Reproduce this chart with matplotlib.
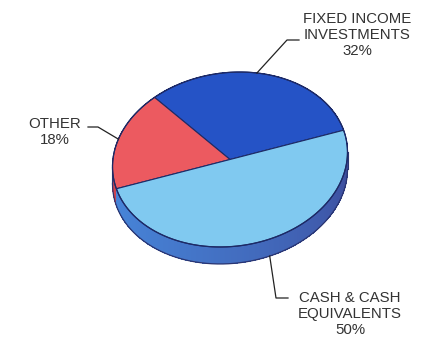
import numpy as np
import matplotlib.pyplot as plt
from matplotlib.patches import Polygon
from matplotlib.colors import to_rgb

# Portfolio mix
labels = ["FIXED INCOME\nINVESTMENTS", "OTHER", "CASH & CASH\nEQUIVALENTS"]
shares = [32, 18, 50]
top_colors = ["#2553c6", "#ec5a60", "#80c9f0"]
# side colours: (lit end, shadowed end)
side_colors = [("#2a48a8", "#233a88"), ("#d0444f", "#b03848"), ("#4786da", "#3c4898")]

# Tilted disc geometry (pixels, y pointing down)
cx, cy = 230, 159.5
a, b = 118, 86.8
tilt = np.radians(7.8)
depth = 17
start_angle = 9

plt.rcParams['font.family'] = ['Liberation Sans', 'DejaVu Sans']


def rim(theta_deg, drop=0.0):
    t = np.radians(theta_deg)
    x = a * np.cos(t)
    y = b * np.sin(t)
    xr = x * np.cos(tilt) - y * np.sin(tilt)
    yr = x * np.sin(tilt) + y * np.cos(tilt)
    return np.column_stack([cx + xr, cy - yr + drop])


def shade(pair, theta):
    # blend from the lit left side to the shadowed right side
    lit, dark = np.array(to_rgb(pair[0])), np.array(to_rgb(pair[1]))
    t = np.clip((np.mod(theta, 360) - 180) / 180.0, 0, 1) ** 1.3
    return lit * (1 - t) + dark * t


fig = plt.figure(figsize=(4.26, 3.40), dpi=100)
ax = fig.add_axes([0, 0, 1, 1])
ax.set_xlim(0, 426)
ax.set_ylim(340, 0)
ax.set_aspect('equal')
ax.axis('off')

bounds = start_angle + np.concatenate([[0], np.cumsum(shares)]) * 3.6

# side of the disc, drawn in thin strips
for i in range(len(shares)):
    th = np.linspace(bounds[i], bounds[i + 1], 200)
    for t0, t1 in zip(th[:-1], th[1:]):
        top = rim([t0, t1])
        bot = rim([t1, t0], depth)
        ax.add_patch(Polygon(np.vstack([top, bot]), closed=True,
                             facecolor=shade(side_colors[i], (t0 + t1) / 2),
                             edgecolor='none', antialiased=False, zorder=1))

# outline of the lower rim on the visible front
front = rim(np.linspace(174, 354, 200), depth)
ax.plot(front[:, 0], front[:, 1], color='#2a3470', lw=0.9, zorder=2)
for th_edge in (174.2, 354.2):
    p = np.vstack([rim([th_edge]), rim([th_edge], depth)])
    ax.plot(p[:, 0], p[:, 1], color='#2a3470', lw=0.8, zorder=2)

# top face wedges
for i in range(len(shares)):
    th = np.linspace(bounds[i], bounds[i + 1], 200)
    pts = np.vstack([[cx, cy], rim(th)])
    ax.add_patch(Polygon(pts, closed=True, facecolor=top_colors[i],
                         edgecolor='#1d2a66', lw=0.8, zorder=3))

outline = rim(np.linspace(0, 360, 400))
ax.plot(outline[:, 0], outline[:, 1], color='#1d2a66', lw=0.9, zorder=4)

# labels with leader lines
txt = dict(fontsize=10.8, color='#333333', ha='center', va='center',
           linespacing=1.2, zorder=5)
line = dict(color='#222222', lw=0.9, zorder=5)

p = rim([71])[0]
ax.plot([p[0], 287, 299], [p[1], 40, 40], **line)
ax.text(357, 35, f"{labels[0]}\n{shares[0]}%", **txt)

p = rim([156])[0]
ax.plot([p[0], 98, 88], [p[1], 127, 127], **line)
ax.text(55, 132, f"{labels[1]}\n{shares[1]}%", **txt)

p = rim([284], depth)[0]
ax.plot([p[0], 276, 288], [p[1], 298, 298], **line)
ax.text(350, 314, f"{labels[2]}\n{shares[2]}%", **txt)

fig.savefig("out.png", dpi=100)
